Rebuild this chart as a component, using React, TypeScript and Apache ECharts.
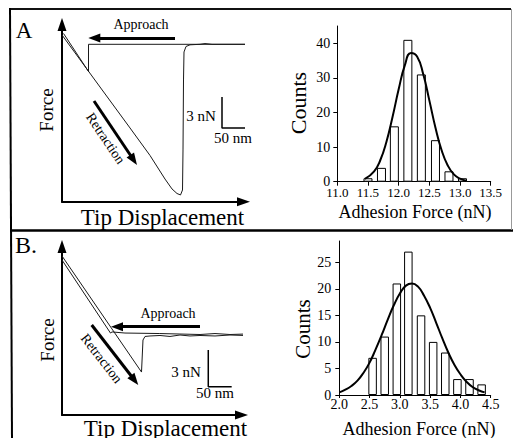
import React, { useEffect, useRef } from 'react';
import * as echarts from 'echarts';

// ---------- Histogram A (adhesion force, nN) ----------
const histABinCenters = [11.5, 11.72, 11.93, 12.15, 12.37, 12.6, 12.82, 13.04];
const histACounts = [1, 4, 16, 41, 31, 12, 3, 1];
const fitAForce = [11.45, 11.6, 11.7, 11.8, 11.9, 12.0, 12.1, 12.2, 12.3, 12.4, 12.5, 12.6, 12.7, 12.8, 12.9, 13.0, 13.1];
const fitACounts = [0.8, 3.0, 6.2, 11.5, 18.7, 26.7, 33.6, 37.2, 36.2, 31.1, 23.5, 15.6, 9.1, 4.7, 2.1, 0.9, 0.3];
const histATicksY = [0, 10, 20, 30, 40];

// ---------- Histogram B ----------
const histBBinCenters = [2.55, 2.75, 2.95, 3.14, 3.35, 3.55, 3.75, 3.95, 4.15, 4.35];
const histBCounts = [7, 11, 21, 27, 15, 10, 8, 3, 3, 2];
const fitBForce = [2.0, 2.1, 2.2, 2.3, 2.4, 2.5, 2.6, 2.7, 2.8, 2.9, 3.0, 3.1, 3.2, 3.3, 3.4, 3.5, 3.6, 3.7, 3.8, 3.9, 4.0, 4.1, 4.2, 4.3, 4.4];
const fitBCounts = [0.5, 1.0, 1.7, 2.7, 4.2, 6.1, 8.6, 11.3, 14.2, 16.9, 19.1, 20.6, 21.0, 20.4, 18.7, 16.4, 13.6, 10.7, 8.0, 5.7, 3.9, 2.5, 1.5, 0.9, 0.5];
const histBTicksY = [0, 5, 10, 15, 20, 25];

// ---------- Force curves A: [displacement nm, force nN] ----------
const forceAApproach = [[372, 0], [53, 0], [53, -2.63], [3, 1.05]];
const forceARetraction = [
  [0, 0.9], [76, -4.13], [136, -8.09], [176, -10.75], [206, -13.03], [220, -13.99],
  [230, -14.43], [237, -14.57], [241, -14.09], [242, -10.22], [243, -3.45], [244, -0.74],
  [248, -0.21], [256, -0.05], [276, 0], [286, 0.07], [300, 0], [372, 0],
];
const scaleBarA = [[320, -5.1], [320, -8.1], [370, -8.1]];

// ---------- Force curves B ----------
const forceBApproach = [
  [391, 0.08], [359, 0.04], [327, 0.12], [295, 0.04], [252, 0.08], [209, 0.12],
  [134.6, 0.16], [106.9, 0.25], [103.6, 0.16], [0, 6.13],
];
const forceBRetraction = [
  [0, 6.46], [169.9, -3.03], [173.1, -0.41], [177.4, -0.12], [188.1, -0.08], [209.4, -0.04],
  [230.8, -0.12], [252.2, 0], [273.5, -0.08], [294.9, -0.04], [327, -0.08], [359, 0], [391, -0.04],
];
const scaleBarB = [[312.6, -1.23], [312.6, -4.23], [362.6, -4.23]];

// arrows (annotation, data coords)
const arrowApproachA = [[226, 0.61], [64.6, 0.61]];
const arrowRetractionA = [[64, -5.48], [143.3, -11.19]];
const arrowApproachB = [[294.9, 0.68], [117.5, 0.68]];
const arrowRetractionB = [[63.5, 0.82], [155.1, -3.7]];

const FONT = 'Liberation Serif';

function txt(text: string, x: number, y: number, size: number, rotDeg = 0) {
  return {
    type: 'text',
    x,
    y,
    rotation: (rotDeg * Math.PI) / 180,
    silent: true,
    style: {
      text,
      fontFamily: FONT,
      fontSize: size,
      fill: '#000',
      align: 'center',
      verticalAlign: 'middle',
      textAlign: 'center',
      textVerticalAlign: 'middle',
    },
  };
}

function ln(x1: number, y1: number, x2: number, y2: number, w: number, c = '#000') {
  return { type: 'line', silent: true, shape: { x1, y1, x2, y2 }, style: { stroke: c, lineWidth: w } };
}

function forceAxis(grid: number, min: number, max: number) {
  return {
    gridIndex: grid,
    type: 'value',
    min,
    max,
    axisLine: {
      show: true,
      onZero: false,
      symbol: ['none', 'triangle'],
      symbolSize: [9, 13],
      lineStyle: { color: '#000', width: 2 },
    },
    axisTick: { show: false },
    axisLabel: { show: false },
    splitLine: { show: false },
  };
}

function arrowLine(pts: number[][]) {
  return [{ coord: pts[0] }, { coord: pts[1] }];
}

export default function App() {
  const ref = useRef<HTMLDivElement>(null);
  useEffect(() => {
    if (!ref.current) return;
    const chart = echarts.init(ref.current, null, { renderer: 'svg' });
    const curveStyle = { color: '#1a1a1a', width: 1 };
    const markArrow = (a: number[][], b: number[][]) => ({
      silent: true,
      symbol: ['none', 'triangle'],
      symbolSize: [9, 12],
      label: { show: false },
      lineStyle: { color: '#000', width: 3, type: 'solid' },
      emphasis: { disabled: true },
      data: [arrowLine(a), arrowLine(b)],
    });
    const tickLabel = (size: number, margin: number, extra: any = {}) => ({
      color: '#000', fontFamily: FONT, fontSize: size, margin, ...extra,
    });

    const option: any = {
      animation: false,
      backgroundColor: '#fff',
      textStyle: { fontFamily: FONT },
      grid: [
        { left: 62, top: 24.5, width: 181.5, height: 177.2 },
        { left: 62, top: 246.5, width: 179.5, height: 168.5 },
        { left: 337.3, top: 26, width: 153.4, height: 155.7 },
        { left: 339.3, top: 241, width: 151.4, height: 154 },
      ],
      xAxis: [
        forceAxis(0, 0, 363),
        forceAxis(1, 0, 383.6),
        {
          gridIndex: 2,
          type: 'value',
          min: 11,
          max: 13.5,
          interval: 0.5,
          axisLine: { show: true, onZero: false, lineStyle: { color: '#000', width: 1 } },
          axisTick: { show: true, length: 4, lineStyle: { color: '#000' } },
          axisLabel: tickLabel(13, 4, { formatter: (v: number) => v.toFixed(1) }),
          splitLine: { show: false },
        },
        {
          gridIndex: 3,
          type: 'value',
          min: 2,
          max: 4.5,
          interval: 0.5,
          axisLine: { show: true, onZero: false, lineStyle: { color: '#000', width: 1 } },
          axisTick: { show: true, length: 3, lineStyle: { color: '#000' } },
          axisLabel: tickLabel(14, 2, { formatter: (v: number) => v.toFixed(1) }),
          splitLine: { show: false },
        },
      ],
      yAxis: [
        forceAxis(0, -15.222, 1.915),
        forceAxis(1, -6.541, 7.236),
        {
          gridIndex: 2,
          type: 'value',
          min: 0,
          max: 45,
          interval: 10,
          axisLine: { show: true, onZero: false, lineStyle: { color: '#000', width: 1 } },
          axisTick: { show: true, length: 4, customValues: histATicksY, lineStyle: { color: '#000' } },
          axisLabel: tickLabel(14, 7, { customValues: histATicksY }),
          splitLine: { show: false },
        },
        {
          gridIndex: 3,
          type: 'value',
          min: 0,
          max: 29,
          interval: 5,
          axisLine: { show: true, onZero: false, lineStyle: { color: '#000', width: 1 } },
          axisTick: { show: true, length: 4, customValues: histBTicksY, lineStyle: { color: '#000' } },
          axisLabel: tickLabel(14, 8, { customValues: histBTicksY }),
          splitLine: { show: false },
        },
      ],
      series: [
        // Panel A force curves
        { type: 'line', xAxisIndex: 0, yAxisIndex: 0, data: forceAApproach, symbol: 'none', clip: false, lineStyle: curveStyle, silent: true },
        { type: 'line', xAxisIndex: 0, yAxisIndex: 0, data: forceARetraction, symbol: 'none', clip: false, lineStyle: curveStyle, silent: true },
        {
          type: 'line', xAxisIndex: 0, yAxisIndex: 0, data: scaleBarA, symbol: 'none', clip: false,
          lineStyle: { color: '#000', width: 1.5 }, silent: true,
          markLine: markArrow(arrowApproachA, arrowRetractionA),
        },
        // Panel B force curves
        { type: 'line', xAxisIndex: 1, yAxisIndex: 1, data: forceBApproach, symbol: 'none', clip: false, lineStyle: curveStyle, silent: true },
        { type: 'line', xAxisIndex: 1, yAxisIndex: 1, data: forceBRetraction, symbol: 'none', clip: false, lineStyle: curveStyle, silent: true },
        {
          type: 'line', xAxisIndex: 1, yAxisIndex: 1, data: scaleBarB, symbol: 'none', clip: false,
          lineStyle: { color: '#000', width: 1.5 }, silent: true,
          markLine: markArrow(arrowApproachB, arrowRetractionB),
        },
        // Histogram A
        {
          type: 'bar', xAxisIndex: 2, yAxisIndex: 2, barWidth: 9, silent: true,
          data: histABinCenters.map((x, i) => [x, histACounts[i]]),
          itemStyle: { color: '#fff', borderColor: '#000', borderWidth: 1 },
        },
        {
          type: 'line', xAxisIndex: 2, yAxisIndex: 2, smooth: true, symbol: 'none', silent: true, z: 5,
          data: fitAForce.map((x, i) => [x, fitACounts[i]]),
          lineStyle: { color: '#000', width: 2 },
        },
        // Histogram B
        {
          type: 'bar', xAxisIndex: 3, yAxisIndex: 3, barWidth: 8.5, silent: true,
          data: histBBinCenters.map((x, i) => [x, histBCounts[i]]),
          itemStyle: { color: '#fff', borderColor: '#000', borderWidth: 1 },
        },
        {
          type: 'line', xAxisIndex: 3, yAxisIndex: 3, smooth: true, symbol: 'none', silent: true, z: 5,
          data: fitBForce.map((x, i) => [x, fitBCounts[i]]),
          lineStyle: { color: '#000', width: 2 },
        },
      ],
      graphic: {
        elements: [
          // frame
          ln(10, 9, 511, 9, 2, '#111'),
          ln(10, 8, 12, 438, 2, '#000'),
          ln(11, 230.5, 513, 230.5, 2.5, '#000'),
          ln(511.5, 9, 511.5, 230, 1, '#999'),
          // panel A
          txt('A', 24, 30, 23),
          txt('Force', 46, 110, 19, 90),
          txt('Tip Displacement', 162.5, 217.5, 23),
          txt('Approach', 141, 24, 14),
          txt('Retraction', 105.5, 138.5, 14, -56),
          txt('3 nN', 201, 116, 15),
          txt('50 nm', 233, 138, 15),
          // panel B
          txt('B.', 26, 245, 24),
          txt('Force', 47.5, 340, 19, 90),
          txt('Tip Displacement', 165.5, 428.5, 23),
          txt('Approach', 168, 313, 14),
          txt('Retraction', 101.5, 358.5, 14, -52),
          txt('3 nN', 186, 371.7, 15),
          txt('50 nm', 215, 393, 15),
          // histograms
          txt('Counts', 298, 103, 22, 90),
          txt('Adhesion Force (nN)', 415, 212, 18),
          txt('Counts', 302.5, 329, 21, 90),
          txt('Adhesion Force (nN)', 419, 429, 18),
        ],
      },
    };
    chart.setOption(option);
    return () => chart.dispose();
  }, []);
  return (
    <div
      ref={ref}
      style={{ position: 'absolute', left: 0, top: 0, width: 513, height: 438, background: '#fff' }}
    />
  );
}
